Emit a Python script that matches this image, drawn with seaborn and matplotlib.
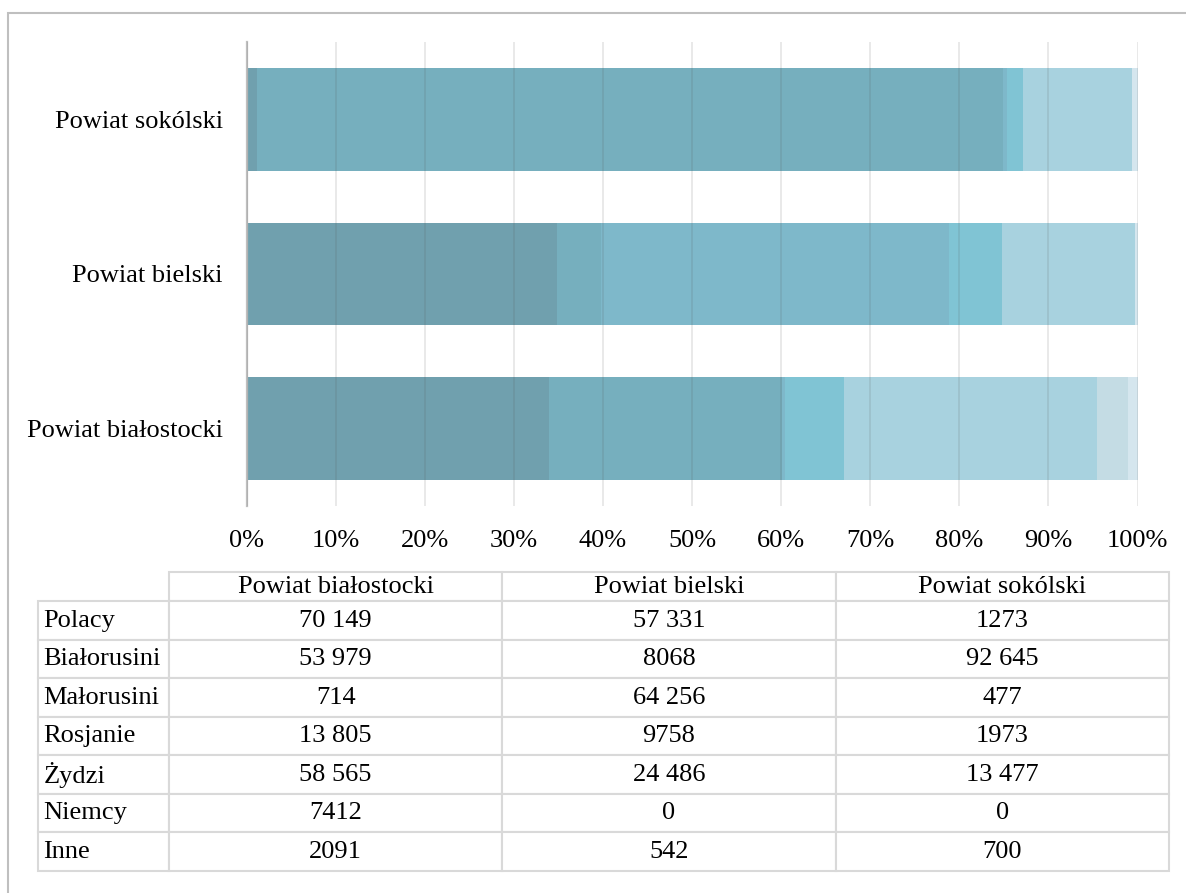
"""Struktura narodowościowa powiatów - wykres skumulowany 100% z tabelą."""

import matplotlib

matplotlib.use("Agg")
import matplotlib.pyplot as plt
import matplotlib.patches as mpatches
from matplotlib.table import Table
import pandas as pd
import seaborn as sns

POWIATY = ["Powiat białostocki", "Powiat bielski", "Powiat sokólski"]
GRUPY = ["Polacy", "Białorusini", "Małorusini", "Rosjanie", "Żydzi", "Niemcy", "Inne"]

BIALOSTOCKI = [70149, 53979, 714, 13805, 58565, 7412, 2091]
BIELSKI = [57331, 8068, 64256, 9758, 24486, 0, 542]
SOKOLSKI = [1273, 92645, 477, 1973, 13477, 0, 700]

KOLORY = ["#70A0AE", "#76AFBE", "#7EB8CA", "#80C4D4", "#A8D2DF", "#C4DCE4", "#D5E6EE"]
TABLE_TEXT = [
    ["70 149", "57 331", "1273"],
    ["53 979", "8068", "92 645"],
    ["714", "64 256", "477"],
    ["13 805", "9758", "1973"],
    ["58 565", "24 486", "13 477"],
    ["7412", "0", "0"],
    ["2091", "542", "700"],
]

FONT = "Liberation Serif"
GRID = "#D9D9D9"
FS = 19
W, H = 1186, 893

sns.set_style("white")
plt.rcParams["font.family"] = [FONT, "DejaVu Serif"]

counts = pd.DataFrame(
    {"Powiat białostocki": BIALOSTOCKI, "Powiat bielski": BIELSKI, "Powiat sokólski": SOKOLSKI},
    index=GRUPY,
)
share = counts / counts.sum() * 100
cum = share.cumsum()
long = cum.reset_index().melt(id_vars="index", var_name="powiat", value_name="cum")
long = long.rename(columns={"index": "grupa"})

fig = plt.figure(figsize=(W / 100, H / 100), dpi=100)
ax = fig.add_axes([246.5 / W, 1 - 506 / H, 891 / W, 464 / H])

# słupki skumulowane: rysujemy od sumy 100% w dół, każda warstwa przykrywa poprzednią
order = POWIATY[::-1]
for grupa, kolor in reversed(list(zip(GRUPY, KOLORY))):
    sub = long[long["grupa"] == grupa]
    sns.barplot(
        data=sub, x="cum", y="powiat", order=order, color=kolor,
        saturation=1, width=0.665, orient="h", ax=ax, linewidth=0,
    )

ax.set_xlim(0, 100)
ax.set_ylim(2.5, -0.5)
ax.set_xticks(range(0, 101, 10))
ax.set_xticklabels([f"{v}%" for v in range(0, 101, 10)])
ax.set_xlabel("")
ax.set_ylabel("")
ax.grid(axis="x", color="#555555", alpha=0.15, linewidth=1.2)
ax.set_axisbelow(False)
for side in ["top", "right", "bottom"]:
    ax.spines[side].set_visible(False)
ax.spines["left"].set_color("#BFBFBF")
ax.spines["left"].set_linewidth(1.6)
ax.tick_params(axis="both", length=0, labelsize=FS, colors="black")
ax.tick_params(axis="x", pad=17)
ax.tick_params(axis="y", pad=17)

# tabela z danymi źródłowymi
tax = fig.add_axes([38 / W, 1 - 871 / H, (1169 - 38) / W, (871 - 572) / H])
tax.axis("off")
table = Table(tax, bbox=[0, 0, 1, 1])
header = [""] + POWIATY
rows = [header] + [[g] + vals for g, vals in zip(GRUPY, TABLE_TEXT)]
for r, row in enumerate(rows):
    for c, txt in enumerate(row):
        cell = table.add_cell(
            r, c,
            width=131 if c == 0 else 333.3,
            height=29.4 if r == 0 else 38.5,
            text=txt,
            loc="left" if c == 0 else "center",
            edgecolor=GRID,
        )
        cell.set_linewidth(1.5)
        cell.get_text().set_fontfamily(FONT)
        cell.get_text().set_color("black")
        if c == 0:
            cell.PAD = 0.04
        if r == 0 and c == 0:
            cell.visible_edges = ""
table.auto_set_font_size(False)
table.set_fontsize(FS)
tax.add_table(table)

fig.patches.append(
    mpatches.Rectangle(
        (8 / W, -0.1), 1.2, 1.1 - 13 / H, transform=fig.transFigure,
        fill=False, edgecolor="#BFBFBF", linewidth=1.5,
    )
)

fig.savefig("out.png", dpi=100)
